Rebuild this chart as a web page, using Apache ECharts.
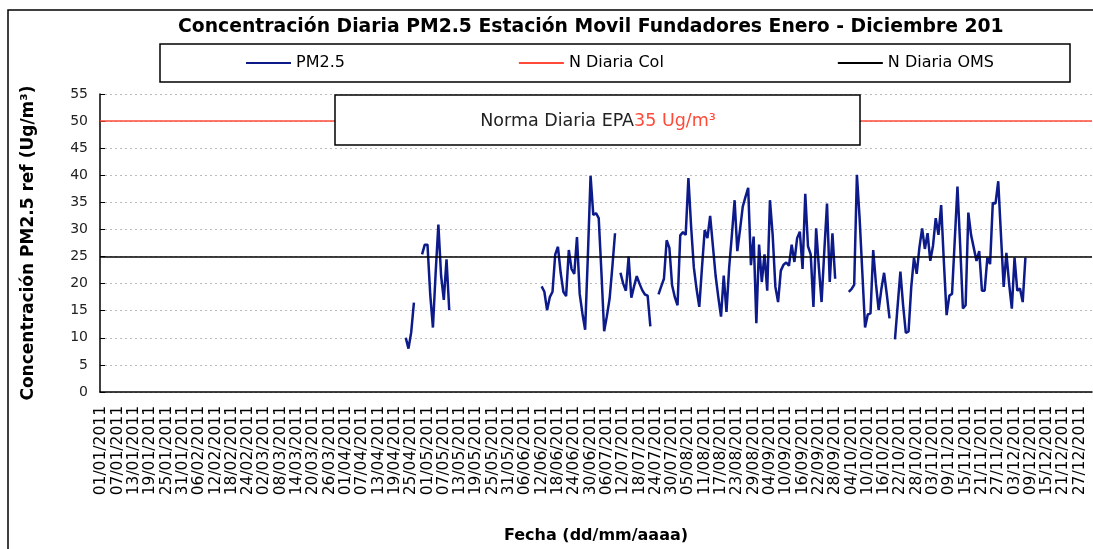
<!DOCTYPE html>
<html>
<head>
<meta charset="utf-8">
<script src="https://cdn.jsdelivr.net/npm/echarts@6/dist/echarts.min.js"></script>
<style>
  html, body { margin: 0; padding: 0; background: #fff; }
  #chart { width: 1093px; height: 549px; }
</style>
</head>
<body>
<div id="chart"></div>
<script>
// categorias: todos los dias de 2011 (dd/mm/aaaa)
const categories = [];
for (let t = Date.UTC(2011, 0, 1); new Date(t).getUTCFullYear() === 2011; t += 86400000) {
  const d = new Date(t);
  const dd = String(d.getUTCDate()).padStart(2, '0');
  const mm = String(d.getUTCMonth() + 1).padStart(2, '0');
  categories.push(dd + '/' + mm + '/2011');
}

// PM2.5 diario, por tramos continuos (fecha de inicio, valores)
const pm25Segments = [
  ['23/04/2011', [10, 8, 11, 16.5]],
  ['29/04/2011', [25.4, 27.2, 27.2, 18, 11.9, 22, 30.9, 21.5, 17, 24.5, 15.1]],
  ['12/06/2011', [19.5, 18.5, 15.1, 17.5, 18.5, 25.4, 26.8, 22, 18.5, 17.7, 26.2, 22.7, 21.8, 28.6,
                  18.1, 14.5, 11.5, 25, 39.9, 32.7, 33, 32.1, 22, 11.2, 14, 17.2, 23, 29.3]],
  ['11/07/2011', [22, 20, 18.7, 25, 17.4, 19.5, 21.4, 20, 18.8, 18, 17.8, 12.1]],
  ['25/07/2011', [18, 19.5, 20.9, 28, 26.6, 19.7, 17.5, 16, 28.9, 29.5, 29, 39.5, 30.5, 23, 19, 15.7,
                  23, 29.9, 28.4, 32.5, 27, 21.5, 17.5, 13.9, 21.5, 14.8, 23, 29, 35.4, 26, 30, 34.2,
                  36, 37.7, 23.4, 28.7, 12.7, 27.2, 20.3, 25.4, 18.7, 35.4, 29, 19.4, 16.6, 22.4, 23.5,
                  23.9, 23.3, 27.2, 24, 28.4, 29.6, 22.7, 36.6, 26.9, 25.4, 15.7, 30.2, 23, 16.6, 26,
                  34.8, 20.3, 29.3, 20.9]],
  ['03/10/2011', [18.5, 19, 19.8, 40.1, 32, 22, 11.9, 14.3, 14.5, 26.2, 20, 15.1, 19, 22, 18, 13.6]],
  ['20/10/2011', [9.7, 16, 22.2, 16, 10.9, 11.2, 19.4, 24.8, 21.8, 26.7, 30.2, 26.4, 29.3, 24.2, 27,
                  32.1, 29, 34.5, 24, 14.2, 17.8, 18.1, 28, 37.9, 27, 15.4, 16, 33.1, 29, 26.6, 24.2,
                  26, 18.7, 18.7, 24.8, 23.6, 34.9, 34.8, 38.9, 29, 19.4, 25.7, 20, 15.4, 24.8, 18.7,
                  19.1, 16.6, 24.8]]
];

const colLimit = 50;   // N Diaria Col
const omsLimit = 25;   // N Diaria OMS
const epaLimit = 35;   // Norma Diaria EPA

const pm25 = categories.map(() => null);
pm25Segments.forEach(([start, vals]) => {
  const i0 = categories.indexOf(start);
  vals.forEach((v, k) => { pm25[i0 + k] = v; });
});

const chart = echarts.init(document.getElementById('chart'));
const font = 'DejaVu Sans';
const blue = '#0c1a8a';
const red = '#ff4a38';

const option = {
  animation: false,
  backgroundColor: '#fff',
  title: {
    text: 'Concentración Diaria PM2.5 Estación Movil Fundadores Enero - Diciembre 2011',
    left: 178,
    top: 18,
    padding: 0,
    textStyle: {
      fontFamily: font, fontWeight: 'bold', fontSize: 18.8, color: '#000',
      width: 830, overflow: 'truncate', ellipsis: ''
    }
  },
  legend: {
    left: 245,
    top: 55,
    padding: 0,
    itemGap: 173,
    itemWidth: 45,
    itemHeight: 14,
    itemStyle: { opacity: 0 },
    textStyle: { fontFamily: font, fontSize: 16, color: '#000' },
    data: ['PM2.5', 'N Diaria Col', 'N Diaria OMS']
  },
  grid: { left: 100, right: 1, top: 94, bottom: 154 },
  xAxis: {
    type: 'category',
    data: categories,
    name: 'Fecha (dd/mm/aaaa)',
    nameLocation: 'middle',
    nameGap: 136,
    nameTextStyle: { fontFamily: font, fontWeight: 'bold', fontSize: 16, color: '#000' },
    axisLine: { lineStyle: { color: '#000', width: 1.5 } },
    axisTick: { show: false },
    axisLabel: {
      interval: 5, rotate: 90, margin: 14,
      fontFamily: font, fontSize: 15.5, color: '#000'
    },
    splitLine: { show: false }
  },
  yAxis: {
    type: 'value',
    min: 0, max: 55, interval: 5,
    name: 'Concentración PM2.5 ref (Ug/m³)',
    nameLocation: 'middle',
    nameGap: 63,
    nameTextStyle: { fontFamily: font, fontWeight: 'bold', fontSize: 17, color: '#000' },
    axisLine: { show: true, lineStyle: { color: '#000', width: 1.5 } },
    axisTick: { show: true, inside: true, length: 5, lineStyle: { color: '#000' } },
    axisLabel: { margin: 12, fontFamily: font, fontSize: 14, color: '#222' },
    splitLine: { lineStyle: { color: '#bbb', type: [2, 3], width: 1 } }
  },
  series: [
    {
      name: 'PM2.5',
      type: 'line',
      data: pm25,
      symbol: 'none',
      connectNulls: false,
      z: 3,
      lineStyle: { color: blue, width: 2.5 },
      itemStyle: { color: blue },
      markLine: {
        silent: true, symbol: 'none', label: { show: false },
        data: [
          { yAxis: colLimit, lineStyle: { color: red, width: 1.6, type: 'solid', opacity: 1 } },
          { yAxis: omsLimit, lineStyle: { color: '#000', width: 1.5, type: 'solid', opacity: 1 } }
        ]
      }
    },
    {
      name: 'N Diaria Col',
      type: 'line',
      data: [],
      symbol: 'none',
      lineStyle: { color: red, width: 1.4 },
      itemStyle: { color: red }
    },
    {
      name: 'N Diaria OMS',
      type: 'line',
      data: [],
      symbol: 'none',
      lineStyle: { color: '#000', width: 1.2 },
      itemStyle: { color: '#000' }
    }
  ],
  graphic: [
    {
      type: 'rect', z: 0, silent: true,
      shape: { x: 8, y: 10, width: 1200, height: 600 },
      style: { fill: 'none', stroke: '#000', lineWidth: 1.5 }
    },
    {
      type: 'rect', z: 1, silent: true,
      shape: { x: 160, y: 44, width: 910, height: 38 },
      style: { fill: 'none', stroke: '#000', lineWidth: 1.5 }
    },
    {
      type: 'rect', z: 100, silent: true,
      shape: { x: 335, y: 95, width: 525, height: 50 },
      style: { fill: '#fff', stroke: '#000', lineWidth: 1.5 }
    },
    {
      type: 'text', z: 101, silent: true,
      x: 598, y: 121,
      style: {
        text: '{a|Norma Diaria EPA}{b|' + epaLimit + ' Ug/m³}',
        align: 'center', verticalAlign: 'middle',
        rich: {
          a: { fontFamily: font, fontSize: 17.5, fill: '#222' },
          b: { fontFamily: font, fontSize: 17.5, fill: red }
        }
      }
    }
  ]
};

chart.setOption(option);
window.addEventListener('resize', () => chart.resize());
</script>
</body>
</html>
